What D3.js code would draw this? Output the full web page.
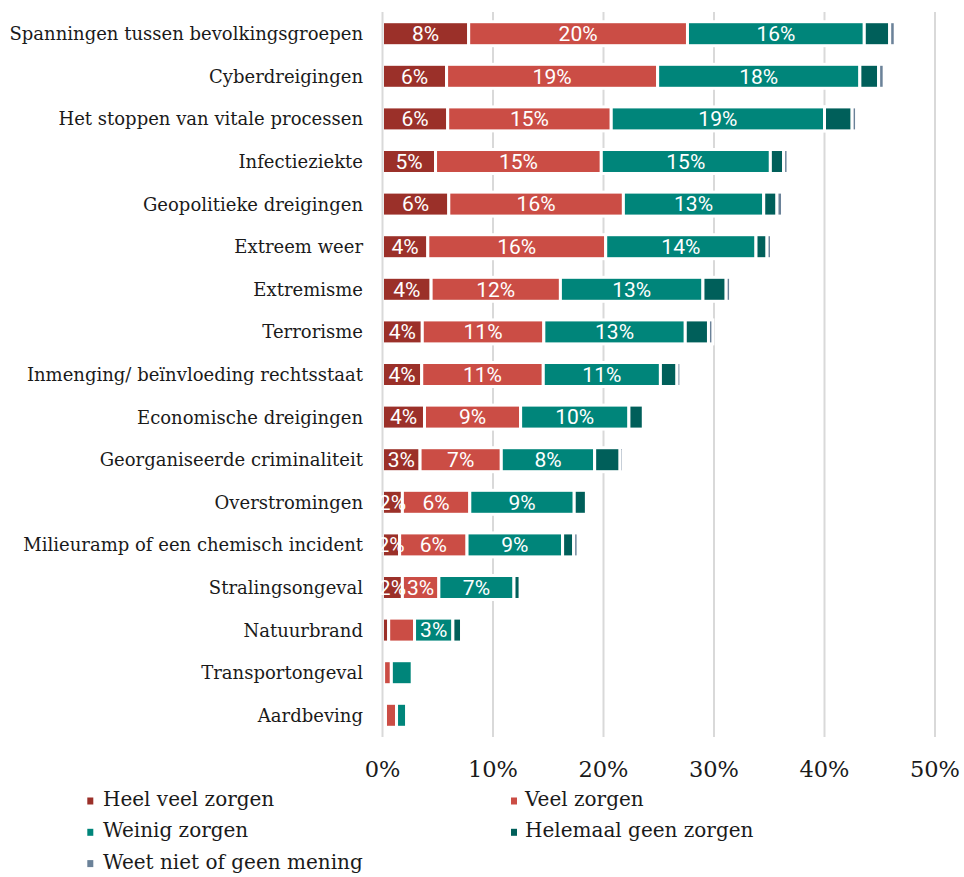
<!DOCTYPE html>
<html>
<head>
<meta charset="utf-8">
<script src="https://cdn.jsdelivr.net/npm/d3@7"></script>
<style>
  html, body { margin: 0; padding: 0; background: #fff; }
  svg { display: block; }
</style>
</head>
<body>
<svg id="chart" width="964" height="877"></svg>
<script>
const categories = [
  "Spanningen tussen bevolkingsgroepen",
  "Cyberdreigingen",
  "Het stoppen van vitale processen",
  "Infectieziekte",
  "Geopolitieke dreigingen",
  "Extreem weer ",
  "Extremisme",
  "Terrorisme",
  "Inmenging/ beïnvloeding rechtsstaat",
  "Economische dreigingen",
  "Georganiseerde criminaliteit",
  "Overstromingen",
  "Milieuramp of een chemisch incident",
  "Stralingsongeval",
  "Natuurbrand",
  "Transportongeval",
  "Aardbeving"
];
const seriesNames = ["Heel veel zorgen", "Veel zorgen", "Weinig zorgen", "Helemaal geen zorgen", "Weet niet of geen mening"];
const heelVeel = [7.8, 5.8, 5.9, 4.8, 6.0, 4.1, 4.4, 3.6, 3.55, 3.8, 3.4, 1.8, 1.55, 1.8, 0.56, 0.1, 0.27];
const veel     = [19.8, 19.1, 14.8, 15.0, 15.8, 16.1, 11.7, 11.0, 11.0, 8.7, 7.35, 6.1, 6.1, 3.3, 2.34, 0.7, 1.0];
const weinig   = [16.0, 18.3, 19.3, 15.3, 12.7, 13.6, 12.9, 12.8, 10.6, 9.8, 8.45, 9.45, 8.65, 6.8, 3.47, 1.9, 0.92];
const helemaal = [2.3, 1.7, 2.5, 1.2, 1.2, 1.0, 2.1, 2.1, 1.5, 1.3, 2.3, 1.1, 1.0, 0.55, 0.78, 0.1, 0.15];
const weetNiet = [0.5, 0.5, 0.4, 0.4, 0.5, 0.4, 0.4, 0.4, 0.35, 0, 0.3, 0, 0.4, 0, 0, 0, 0];
const xTicks = [0, 10, 20, 30, 40, 50];
const colors = ["#9b3029", "#cb4d45", "#00857a", "#005f5a", "#6b8299"];
// data labels that are not shown in the original
const hiddenLabels = [["Natuurbrand", "Veel zorgen"], ["Transportongeval", "Weinig zorgen"]];

const seriesValues = [heelVeel, veel, weinig, helemaal, weetNiet];
const table = categories.map((c, i) => {
  const row = { cat: c };
  seriesNames.forEach((s, j) => row[s] = seriesValues[j][i]);
  return row;
});
const stacked = d3.stack().keys(seriesNames)(table);

const svg = d3.select("#chart");
const x = d3.scaleLinear().domain([0, 50]).range([382.5, 935]);
const y = d3.scaleBand().domain(categories).range([12.4, 736.6]).paddingInner(0.437).paddingOuter(0.2185);

// gridlines
svg.append("g").selectAll("line").data(xTicks.filter(t => t > 0)).join("line")
  .attr("x1", d => x(d)).attr("x2", d => x(d))
  .attr("y1", 12).attr("y2", 737)
  .attr("stroke", "#d9d9d9").attr("stroke-width", 2);

// bars
const gBars = svg.append("g");
stacked.forEach((s, j) => {
  gBars.append("g").attr("fill", colors[j]).selectAll("rect").data(s).join("rect")
    .attr("x", d => x(d[0]))
    .attr("width", d => Math.max(0, x(d[1]) - x(d[0])))
    .attr("y", d => y(d.data.cat))
    .attr("height", y.bandwidth())
    .attr("stroke", "#fff").attr("stroke-width", 3)
    .style("display", d => (d[1] - d[0]) > 0 ? null : "none");
});

// axis line at 0
svg.append("line")
  .attr("x1", x(0)).attr("x2", x(0)).attr("y1", 12).attr("y2", 737)
  .attr("stroke", "#d9d9d9").attr("stroke-width", 2);

// data labels
svg.append("defs").append("clipPath").attr("id", "plotclip")
  .append("rect").attr("x", 380).attr("y", 0).attr("width", 600).attr("height", 760);
const gLabels = svg.append("g").attr("clip-path", "url(#plotclip)");
stacked.forEach((s, j) => {
  if (j > 2) return;
  const items = s.filter(d => (d[1] - d[0]) >= 1.5 &&
    !hiddenLabels.some(h => h[0] === d.data.cat && h[1] === seriesNames[j]));
  gLabels.append("g").selectAll("text").data(items).join("text")
    .attr("x", d => (x(d[0]) + x(d[1])) / 2)
    .attr("y", d => y(d.data.cat) + y.bandwidth() / 2)
    .attr("dy", "0.35em")
    .attr("text-anchor", "middle")
    .attr("fill", "#fff")
    .style("font-family", "Roboto, sans-serif")
    .style("font-size", "21px")
    .text(d => Math.round(d[1] - d[0]) + "%");
});

// category labels
const gCat = svg.append("g");
const catText = gCat.selectAll("text").data(categories).join("text")
  .attr("x", 363)
  .attr("y", d => y(d) + y.bandwidth() / 2)
  .attr("dy", "0.36em")
  .attr("text-anchor", "end")
  .attr("fill", "#1a1a1a")
  .style("font-family", "'DejaVu Serif', serif")
  .style("font-size", "18px")
  .text(d => d);
// fit longest label to the reference width
const widest = d3.max(catText.nodes(), n => n.getComputedTextLength());
const fitSize = 18 * 354 / widest;
catText.style("font-size", fitSize + "px");

// x tick labels
svg.append("g").selectAll("text").data(xTicks).join("text")
  .attr("x", d => x(d))
  .attr("y", 777)
  .attr("text-anchor", "middle")
  .attr("fill", "#1a1a1a")
  .style("font-family", "'DejaVu Serif', serif")
  .style("font-size", "22.5px")
  .text(d => d + "%");

// legend
const legendPos = [
  { mx: 87.3, tx: 103, base: 806 },
  { mx: 511, tx: 525, base: 806 },
  { mx: 87.3, tx: 103, base: 837.3 },
  { mx: 511, tx: 525, base: 837.3 },
  { mx: 87.3, tx: 103, base: 868.6 }
];
const gLeg = svg.append("g");
seriesNames.forEach((name, j) => {
  const p = legendPos[j];
  gLeg.append("rect").attr("x", p.mx).attr("y", p.base - 8.5).attr("width", 6).attr("height", 7)
    .attr("fill", colors[j]);
  gLeg.append("text").attr("x", p.tx).attr("y", p.base)
    .attr("fill", "#1a1a1a")
    .style("font-family", "'DejaVu Serif', serif")
    .style("font-size", "20px")
    .text(name);
});
</script>
</body>
</html>
